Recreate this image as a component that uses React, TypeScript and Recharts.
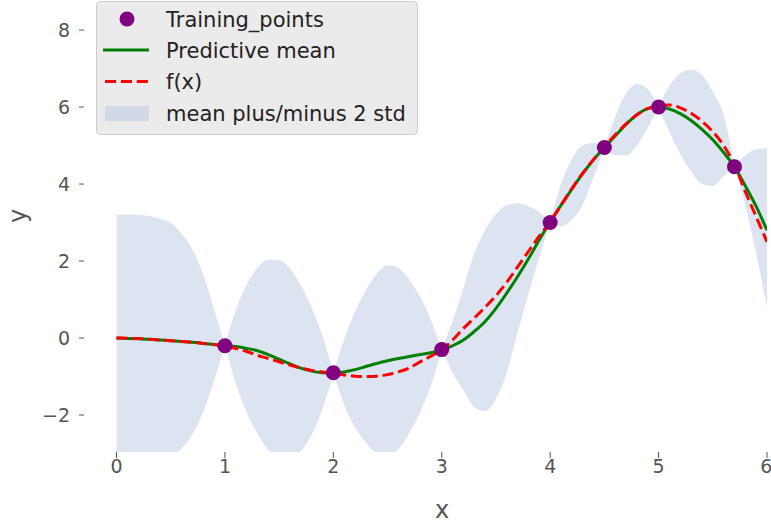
import React from 'react';
import { ComposedChart, Area, Line, Scatter, XAxis, YAxis, Legend } from 'recharts';

const xs = [
  0.0, 0.1, 0.2, 0.3, 0.4, 0.5, 0.6, 0.7, 0.8, 0.9,
  1.0, 1.1, 1.2, 1.3, 1.4, 1.5, 1.6, 1.7, 1.8, 1.9,
  2.0, 2.1, 2.2, 2.3, 2.4, 2.5, 2.6, 2.7, 2.8, 2.9,
  3.0, 3.1, 3.2, 3.3, 3.4, 3.5, 3.6, 3.7, 3.8, 3.9,
  4.0, 4.1, 4.2, 4.3, 4.4, 4.5, 4.6, 4.7, 4.8, 4.9,
  5.0, 5.1, 5.2, 5.3, 5.4, 5.5, 5.6, 5.7, 5.8, 5.9,
  6.0,
];

const meanVals = [
  0, -0.01, -0.02, -0.03, -0.05, -0.07, -0.09, -0.11, -0.14, -0.17,
  -0.2, -0.22, -0.27, -0.33, -0.43, -0.55, -0.67, -0.78, -0.86, -0.9,
  -0.91, -0.88, -0.82, -0.74, -0.66, -0.59, -0.53, -0.48, -0.43, -0.38,
  -0.31, -0.2, -0.05, 0.17, 0.43, 0.77, 1.17, 1.6, 2.06, 2.55,
  3.02, 3.45, 3.87, 4.27, 4.63, 4.95, 5.25, 5.55, 5.8, 5.96,
  6.0, 5.95, 5.83, 5.65, 5.42, 5.15, 4.82, 4.45, 3.95, 3.42,
  2.8,
];

const fxVals = [
  0, -0.005, -0.015, -0.03, -0.05, -0.07, -0.09, -0.11, -0.14, -0.17,
  -0.2, -0.27, -0.35, -0.45, -0.53, -0.62, -0.7, -0.78, -0.84, -0.88,
  -0.91, -0.96, -0.99, -1.0, -0.99, -0.95, -0.88, -0.78, -0.62, -0.47,
  -0.31, -0.05, 0.25, 0.52, 0.8, 1.1, 1.45, 1.85, 2.25, 2.65,
  3.02, 3.45, 3.88, 4.28, 4.64, 4.97, 5.28, 5.56, 5.8, 5.96,
  6.03, 6.05, 5.98, 5.84, 5.63, 5.36, 5.0, 4.5, 3.8, 3.15,
  2.5,
];

const upperVals = [
  3.21, 3.21, 3.2, 3.17, 3.1, 3.0, 2.7, 2.3, 1.65, 0.75,
  -0.2, 0.73, 1.38, 1.82, 2.04, 2.03, 1.8, 1.37, 0.79, 0.05,
  -0.91, -0.03, 0.68, 1.24, 1.67, 1.89, 1.82, 1.52, 1.07, 0.47,
  -0.31, 0.45, 1.3, 2.2, 2.8, 3.22, 3.45, 3.5, 3.42, 3.27,
  3.02, 4.0, 4.65, 5.0, 5.07, 4.95, 5.75, 6.35, 6.6, 6.46,
  6.0, 6.55, 6.88, 6.97, 6.84, 6.4, 5.8, 4.45, 4.75, 4.9,
  4.93,
];

const lowerVals = [
  -3.21, -3.23, -3.24, -3.23, -3.19, -3.1, -2.86, -2.5, -1.92, -1.1,
  -0.2, -1.17, -1.92, -2.48, -2.9, -3.13, -3.14, -2.93, -2.51, -1.85,
  -0.91, -1.73, -2.32, -2.72, -2.99, -3.07, -2.88, -2.48, -1.93, -1.23,
  -0.31, -0.9, -1.35, -1.8, -1.9, -1.58, -0.9, 0.15, 1.15, 2.1,
  3.02, 2.9, 3.07, 3.47, 4.18, 4.95, 4.75, 4.75, 5.0, 5.46,
  6.0, 5.35, 4.78, 4.33, 4.0, 3.95, 4.2, 4.45, 3.45, 2.2,
  0.78,
];

const trainX = [1, 2, 3, 4, 4.5, 5, 5.7];
const trainY = [-0.2, -0.9, -0.3, 3.0, 4.95, 6.0, 4.45];

const xTicks = [0, 1, 2, 3, 4, 5, 6];
const yTicks = [-2, 0, 2, 4, 6, 8];

const legendLabels = ['Training_points', 'Predictive mean', 'f(x)', 'mean plus/minus 2 std'];

const data = xs.map((x, i) => ({
  x,
  mean: meanVals[i],
  fx: fxVals[i],
  band: [lowerVals[i], upperVals[i]],
}));

const train = trainX.map((x, i) => ({ x, y: trainY[i] }));

// band pieces run between consecutive training inputs so the band pinches sharply at each one
const bandBreaks = [xs[0], ...trainX, xs[xs.length - 1]];
const bandPieces = bandBreaks.slice(0, -1).map((a, i) => [a, bandBreaks[i + 1]]);

const FONT = '"DejaVu Sans", sans-serif';
const TICK_COLOR = '#555555';

const fmt = (v: number) => (v < 0 ? '\u2212' + Math.abs(v) : String(v));

const LegendBox = () => (
  <svg width={322} height={134} style={{ display: 'block' }}>
    <rect x={0.5} y={0.5} width={321} height={133} rx={4} ry={4} fill="#ebebeb" stroke="#cccccc" strokeWidth={1} />
    <circle cx={31} cy={18} r={7.5} fill="#800080" />
    <line x1={7} x2={53} y1={49} y2={49} stroke="#008000" strokeWidth={3} />
    <line x1={9} x2={53} y1={80.5} y2={80.5} stroke="#ff0000" strokeWidth={3} strokeDasharray="11.1 4.8" />
    <rect x={9} y={105} width={44} height={15} fill="#b0c4de" fillOpacity={0.45} />
    {legendLabels.map((t, i) => (
      <text
        key={t}
        x={70}
        y={[18, 49, 80.5, 112][i] + 7.6}
        fontFamily={FONT}
        fontSize={21}
        fill="#222222"
      >
        {t}
      </text>
    ))}
  </svg>
);

const Dot = (props: any) => <circle cx={props.cx} cy={props.cy} r={7.5} fill="#800080" />;

export default function App() {
  return (
    <div style={{ width: 771, height: 525, position: 'relative', background: '#ffffff' }}>
      <style>{'body{margin:0;background:#ffffff;}'}</style>
      <ComposedChart
        width={771}
        height={525}
        data={data}
        margin={{ top: 0, right: 4, left: 0, bottom: 0 }}
      >
        <XAxis
          dataKey="x"
          type="number"
          domain={[-0.3, 6]}
          ticks={xTicks}
          allowDataOverflow
          height={73}
          axisLine={false}
          tickSize={6}
          tickMargin={2}
          tickLine={{ stroke: TICK_COLOR, strokeWidth: 1 }}
          tick={{ fill: TICK_COLOR, fontSize: 19, fontFamily: FONT }}
          label={{
            content: () => (
              <text x={442} y={518} textAnchor="middle" fontFamily={FONT} fontSize={24} fill={TICK_COLOR}>
                x
              </text>
            ),
          }}
        />
        <YAxis
          type="number"
          domain={[-2.96, 8.78]}
          ticks={yTicks}
          allowDataOverflow
          width={84}
          axisLine={false}
          tickSize={5}
          tickMargin={9}
          tickFormatter={fmt}
          tickLine={{ stroke: TICK_COLOR, strokeWidth: 1 }}
          tick={{ fill: TICK_COLOR, fontSize: 19, fontFamily: FONT }}
          label={{
            content: () => (
              <text
                x={26}
                y={216}
                textAnchor="middle"
                fontFamily={FONT}
                fontSize={24}
                fill={TICK_COLOR}
                transform="rotate(-90 26 216)"
              >
                y
              </text>
            ),
          }}
        />
        <Legend
          layout="horizontal"
          verticalAlign="middle"
          align="center"
          content={() => <LegendBox />}
          wrapperStyle={{ position: 'absolute', top: 1, left: 96, width: 322, height: 134 }}
        />
        {bandPieces.map(([a, b], k) => (
          <Area
            key={'band' + k}
            dataKey={(d: any) => (d.x >= a - 1e-9 && d.x <= b + 1e-9 ? d.band : null)}
            type="monotone"
            stroke="none"
            fill="#b0c4de"
            fillOpacity={0.45}
            isAnimationActive={false}
            activeDot={false}
            legendType="none"
          />
        ))}
        <Scatter data={train} dataKey="y" fill="#800080" shape={Dot} isAnimationActive={false} />
        <Line
          dataKey="mean"
          type="monotone"
          stroke="#008000"
          strokeWidth={3}
          dot={false}
          activeDot={false}
          isAnimationActive={false}
        />
        <Line
          dataKey="fx"
          type="monotone"
          stroke="#ff0000"
          strokeWidth={3}
          strokeDasharray="11.1 4.8"
          dot={false}
          activeDot={false}
          isAnimationActive={false}
        />
      </ComposedChart>
    </div>
  );
}
